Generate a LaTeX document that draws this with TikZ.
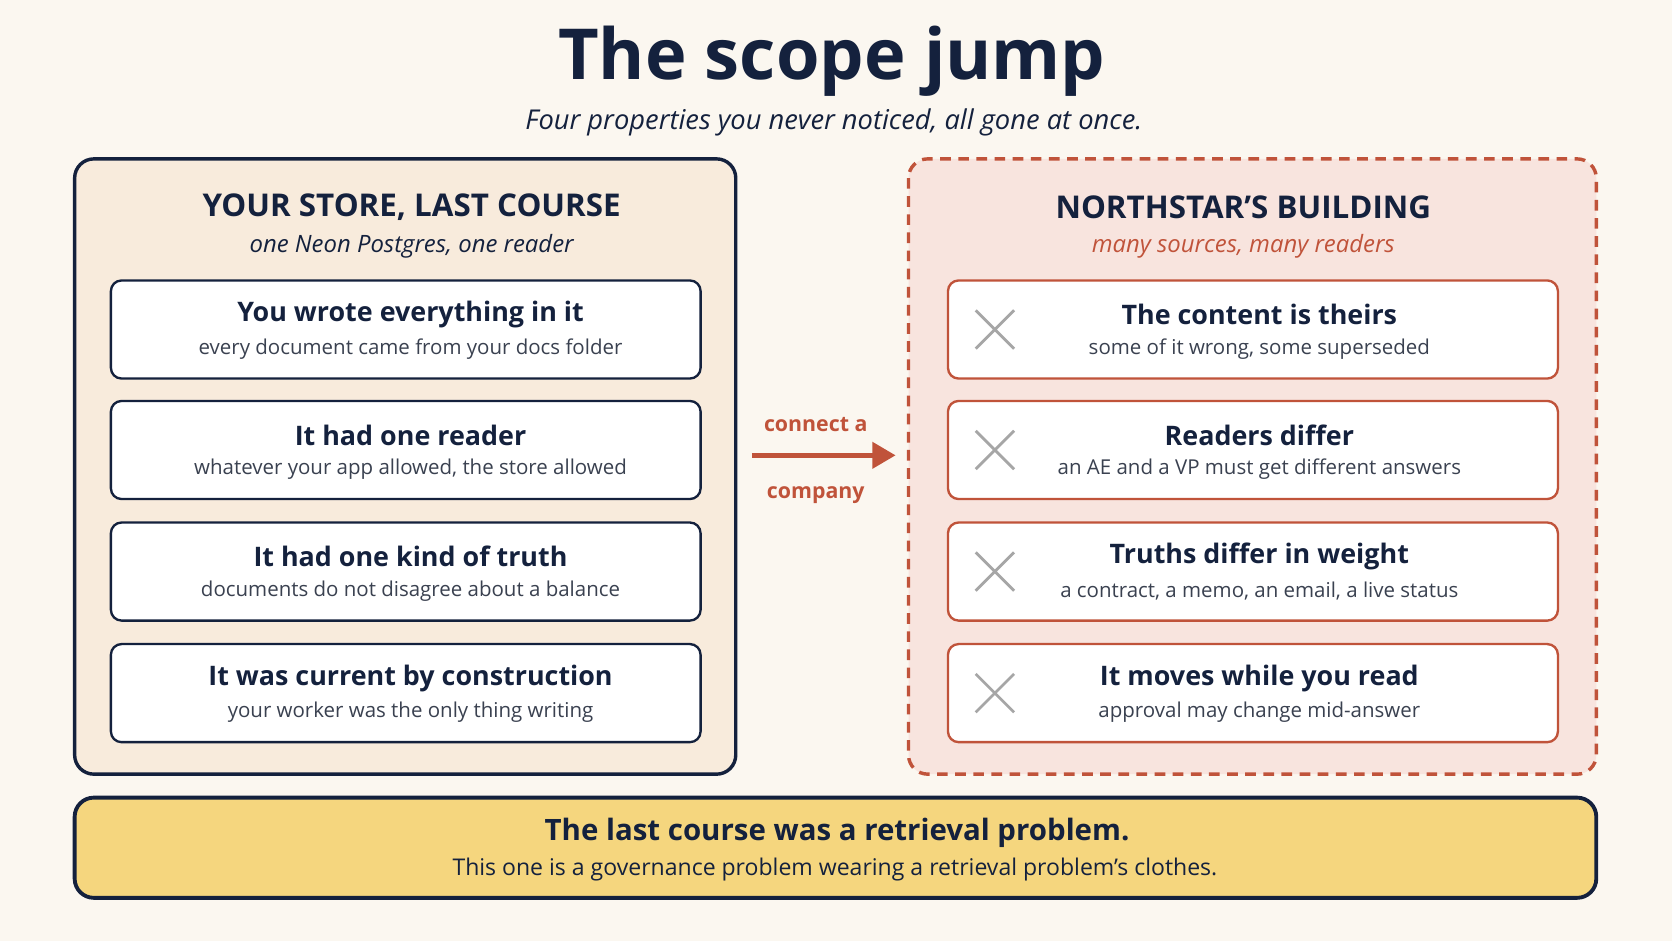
\documentclass[tikz,border=0pt]{standalone}
\usetikzlibrary{arrows.meta}
\usepackage{fontspec}
\setmainfont{Open Sans}
\definecolor{bg}{HTML}{FBF7F0}
\definecolor{navy}{HTML}{14213D}
\definecolor{lfill}{HTML}{F8EBDC}
\definecolor{rfill}{HTML}{F8E4DE}
\definecolor{rust}{HTML}{C0533A}
\definecolor{gold}{HTML}{F5D67E}
\definecolor{sub}{HTML}{3A4150}
\begin{document}
\begin{tikzpicture}[x=0.5pt,y=-0.5pt,
 panel/.style={rounded corners=9pt,line width=1.6pt},
 lcard/.style={draw=navy,fill=white,rounded corners=5pt,line width=1.1pt},
 rcard/.style={draw=rust,fill=white,rounded corners=5pt,line width=1.1pt},
 ctitle/.style={font=\fontsize{12.6}{14}\selectfont\bfseries,text=navy},
 csub/.style={font=\fontsize{9.6}{11}\selectfont,text=sub},
 xmark/.style={draw=gray!70,line width=1.3pt}]
\fill[bg] (0,0) rectangle (1568,882);
\useasboundingbox (0,0) rectangle (1568,882);
\node[font=\fontsize{33}{38}\selectfont\bfseries,text=navy] (title) at (780,57) {The scope jump};
\node[font=\fontsize{12.8}{14}\selectfont\itshape,text=navy] (subt) at (782,115) {Four properties you never noticed, all gone at once.};
\draw[panel,draw=navy,fill=lfill] (70,149) rectangle (690,726);
\node[font=\fontsize{14.7}{16}\selectfont\bfseries,text=navy] (lh) at (386,194) {YOUR STORE, LAST COURSE};
\node[font=\fontsize{11.2}{12}\selectfont\itshape,text=navy] (ls) at (386,231) {one Neon Postgres, one reader};
\draw[panel,draw=rust,fill=rfill,dash pattern=on 5pt off 3.5pt] (852,149) rectangle (1497,726);
\node[font=\fontsize{14.7}{16}\selectfont\bfseries,text=navy] (rh) at (1166,194) {NORTHSTAR'S BUILDING};
\node[font=\fontsize{11.2}{12}\selectfont\itshape,text=rust] (rs) at (1166,231) {many sources, many readers};
\foreach \y/\t/\s [count=\i] in {263/You wrote everything in it/every document came from your docs folder,
 376/It had one reader/{whatever your app allowed, the store allowed},
 490/It had one kind of truth/documents do not disagree about a balance,
 604/It was current by construction/your worker was the only thing writing}{
 \draw[lcard] (104,\y) rectangle (657,\y+92);
 \node[ctitle] (lt\i) at (385,\y+32) {\t};
 \node[csub] (ls\i) at (385,\y+64) {\s};}
\foreach \y/\t/\s [count=\i] in {263/The content is theirs/{some of it wrong, some superseded},
 376/Readers differ/an AE and a VP must get different answers,
 490/Truths differ in weight/{a contract, a memo, an email, a live status},
 604/It moves while you read/approval may change mid-answer}{
 \draw[rcard] (889,\y) rectangle (1461,\y+92);
 \node[ctitle] (rt\i) at (1181,\y+32) {\t};
 \node[csub] (rs\i) at (1181,\y+64) {\s};
 \draw[xmark] (915,\y+28) -- (951,\y+64) (915,\y+64) -- (951,\y+28);}
\coordinate (a1) at (705,427); \coordinate (a2) at (840,427);
\draw[rust,line width=2.6pt,-{Triangle[length=11pt,width=12pt]}] (a1) -- (a2);
\node[font=\fontsize{10}{12}\selectfont\bfseries,text=rust] (c1) at (765,398) {connect a};
\node[font=\fontsize{10}{12}\selectfont\bfseries,text=rust] (c2) at (765,464) {company};
\draw[panel,draw=navy,fill=gold,line width=1.8pt] (70,748) rectangle (1497,842);
\node[font=\fontsize{13.8}{16}\selectfont\bfseries,text=navy] (b1) at (785,781) {The last course was a retrieval problem.};
\node[font=\fontsize{10.8}{12}\selectfont,text=navy] (b2) at (783,815) {This one is a governance problem wearing a retrieval problem's clothes.};
\end{tikzpicture}
\end{document}
